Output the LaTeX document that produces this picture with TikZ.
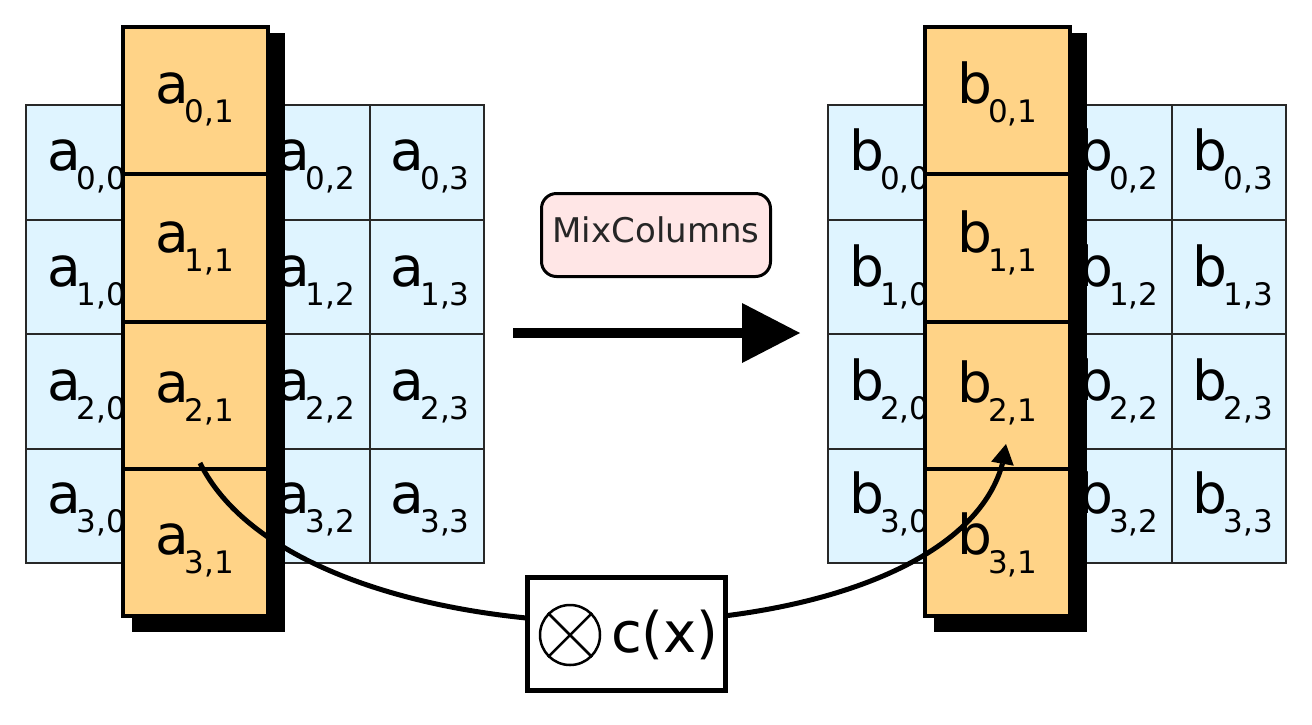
\documentclass[tikz,border=0pt]{standalone}
\usepackage{fontspec}
\setmainfont{DejaVu Sans}
\usetikzlibrary{arrows.meta,bending}
\definecolor{cellblue}{RGB}{223,244,255}
\definecolor{cellorange}{RGB}{255,211,135}
\definecolor{boxpink}{RGB}{255,230,230}
\definecolor{gridline}{RGB}{40,40,40}
\newcommand\cellname[3]{#1\kern-4pt\raisebox{-19pt}{\fontsize{31}{31}\selectfont #2,#3}}
\begin{document}
\begin{tikzpicture}[x=1pt,y=-1pt,
  bluecell/.style={draw=gridline, line width=2pt, fill=cellblue, minimum width=114.5pt, minimum height=114.5pt, inner sep=0pt, outer sep=0pt},
  orangecell/.style={draw=black, line width=4pt, fill=cellorange, minimum width=145pt, minimum height=147.25pt, inner sep=0pt, outer sep=0pt},
  celltext/.style={font=\fontsize{55}{55}\selectfont, text=black, inner sep=0pt, anchor=base west},
  shadowbox/.style={fill=black},
  mixbox/.style={draw=black, line width=3pt, fill=boxpink, rounded corners=15pt, minimum width=229pt, minimum height=83pt, inner sep=0pt, font=\fontsize{34}{34}\selectfont, text=black!85, text depth=10pt},
  bigarrow/.style={line width=10pt, -{Triangle[length=58pt,width=60pt,line width=0pt]}},
  curvearrow/.style={line width=5pt, -{Triangle[length=20pt,width=23pt,line width=0pt]}},
  cxbox/.style={draw=black, line width=5pt, fill=white, minimum width=198pt, minimum height=113pt, inner sep=0pt},
  otimesc/.style={circle, draw=black, line width=2.5pt, minimum size=60pt, inner sep=0pt},
  cxtext/.style={font=\fontsize{56}{56}\selectfont, inner sep=0pt}]
\useasboundingbox (0,0) rectangle (1312,724);

% blue grids
\foreach \side/\L/\dx in {A/a/0, B/b/802} {
  \foreach \r/\bl in {0/170,1/286,2/400,3/513} {
    \foreach \c in {0,...,3} {
      \node[bluecell] (\side\r\c) at ({\dx+83.25+114.5*\c},{162.25+114.5*\r}) {};
      \ifnum\c=1\else
        \node[celltext] (\side t\r\c) at ({\dx+26+114.5*\c+21},\bl) {\cellname{\L}{\r}{\c}};
      \fi
    }
  }
  % shadow
  \fill[shadowbox] ({\dx+132},33) rectangle ({\dx+285},632);
  % orange column
  \foreach \r/\bl in {0/103,1/252,2/402,3/554} {
    \node[orangecell] (\side O\r) at ({\dx+195.5},{100.75+147.25*\r}) {};
    \node[celltext] (\side Ot\r) at ({\dx+121+34},\bl) {\cellname{\L}{\r}{1}};
  }
}

% MixColumns label and arrow
\node[mixbox] (mix) at (656,235) {MixColumns};
\coordinate (ms) at (513,333);
\coordinate (me) at (800,333);
\draw[bigarrow] (ms) -- (me);

% curved connector
\coordinate (cs) at (200,463);
\coordinate (ce) at (1006,444);
\draw[curvearrow] (cs) .. controls (310,685) and (985,672) .. (ce);

% c(x) box
\node[cxbox] (cx) at (626.5,634) {};
\node[otimesc] (ot) at (570,635) {};
\draw[line width=2.5pt] (ot.north west) -- (ot.south east);
\draw[line width=2.5pt] (ot.north east) -- (ot.south west);
\node[cxtext] (cxt) at (665,634.5) {c(x)};
\end{tikzpicture}
\end{document}
